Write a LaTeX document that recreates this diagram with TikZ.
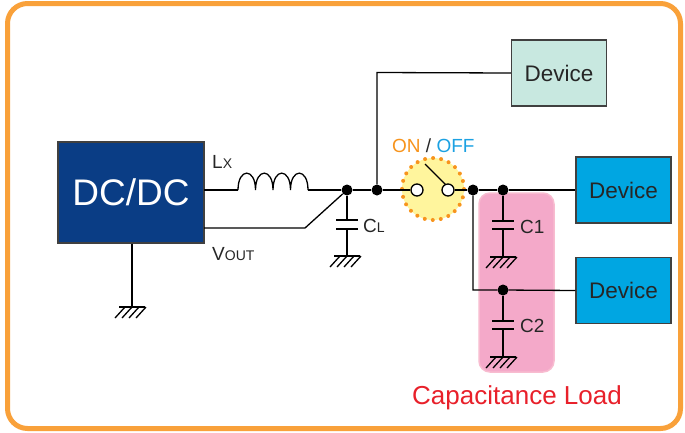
\documentclass[tikz,border=0pt]{standalone}
\usepackage{fontspec}
\setmainfont{Liberation Sans}
\definecolor{frameor}{HTML}{F9A13A}
\definecolor{dcblue}{HTML}{0A3D85}
\definecolor{devteal}{HTML}{C8E8E0}
\definecolor{devblue}{HTML}{00A6E2}
\definecolor{pinkfill}{HTML}{F4A9C9}
\definecolor{pinkedge}{HTML}{F8BCD0}
\definecolor{swyellow}{HTML}{FFF59D}
\definecolor{swor}{HTML}{F7941D}
\definecolor{offblue}{HTML}{1BA1E2}
\definecolor{loadred}{HTML}{E8202A}
\definecolor{boxedge}{HTML}{404040}
\begin{document}
\begin{tikzpicture}[x=1pt,y=-1pt,
  wire/.style={line width=1.3pt,black},
  dotnode/.style={circle,fill=black,inner sep=0pt,minimum size=11pt},
  contact/.style={circle,draw=black,fill=white,line width=1.3pt,inner sep=0pt,minimum size=12pt},
  devbox/.style={draw=boxedge,line width=1.2pt,minimum width=95pt,minimum height=66pt,inner sep=0pt,font=\fontsize{22.5}{26}\selectfont,text=black!85},
  lbl/.style={inner sep=0pt,font=\fontsize{19}{22}\selectfont,text=black!85},
  gndsym/.pic={\draw[line width=1.3pt] (-13,0)--(13,0);
    \foreach \i in {-7,0,7,14} \draw[line width=1.3pt] (\i,0)--(\i-10,11);}
]
\useasboundingbox (0,0) rectangle (685,432);
% frame
\draw[frameor,line width=5pt,rounded corners=20pt] (7.5,3.5) rectangle (680.5,428.5);
% pink load area
\node[draw=pinkedge,fill=pinkfill,line width=1.5pt,rounded corners=11pt,minimum width=75pt,minimum height=179pt,inner sep=0pt] (load) at (516.5,282.5) {};
% boxes
\node[draw=boxedge,fill=dcblue,line width=1.2pt,minimum width=146pt,minimum height=101pt,inner sep=0pt,text=white,font=\fontsize{37}{40}\selectfont] (dcdc) at (131,192.5) {DC/DC};
\node[devbox,fill=devteal] (dev1) at (559,73) {Device};
\node[devbox,fill=devblue] (dev2) at (623.5,190) {Device};
\node[devbox,fill=devblue] (dev3) at (623.5,290.5) {Device};
% switch
\node[circle,fill=swyellow,draw=swor,line width=4pt,dash pattern=on 0pt off 8.1pt,line cap=round,minimum size=62pt,inner sep=0pt] (sw) at (433,189) {};
% coordinates
\coordinate (lxout) at (204,190);
\coordinate (indA) at (238,190);
\coordinate (indB) at (308,190);
\coordinate (voutout) at (204,228);
\coordinate (vbend) at (305,228);
\node[dotnode] (dA) at (347,190) {};
\node[dotnode] (dB) at (377,190) {};
\node[dotnode] (dC) at (473,190) {};
\node[dotnode] (dD) at (503,190) {};
\node[dotnode] (dE) at (503,290) {};
\coordinate (topbend) at (377,72.5);
\coordinate (lowbend) at (473,290);
% inductor wires
\draw[wire] (lxout) -- (indA);
\draw[wire] (indA)
  \foreach \k in {0,1,2,3} { .. controls +(0,-22.5) and +(0,-22.5) .. ++(17.5,0) };
\draw[wire] (indB) -- (dA);
\draw[wire] (voutout) -- (vbend) -- (dA);
\draw[wire] (dA) -- (dB);
\draw[wire] (dB) -- (topbend) -- (dev1.west);
% switch contacts
\coordinate (bladeA) at (425,164);
\coordinate (bladeB) at (446,185);
\draw[wire] (bladeA) -- (bladeB);
\node[contact] (swL) at (417,190) {};
\node[contact] (swR) at (448,190) {};
\draw[wire] (dB) -- (swL);
\draw[wire] (swR) -- (dC);
\draw[wire] (dC) -- (dD) -- (dev2.west);
\draw[wire] (dC) -- (lowbend) -- (dE) -- (dev3.west);
% CL
\coordinate (clT) at (347,220);
\coordinate (clB) at (347,229);
\coordinate (clG) at (347,256);
\draw[wire] (dA) -- (clT);
\draw[wire] (336,220) -- (358,220);
\draw[wire] (336,229) -- (358,229);
\draw[wire] (clB) -- (clG);
\pic at (clG) {gndsym};
% C1
\coordinate (c1T) at (503,221);
\coordinate (c1B) at (503,229);
\coordinate (c1G) at (503,257);
\draw[wire] (dD) -- (c1T);
\draw[wire] (492,221) -- (514,221);
\draw[wire] (492,229) -- (514,229);
\draw[wire] (c1B) -- (c1G);
\pic at (c1G) {gndsym};
% C2
\coordinate (c2T) at (503,321);
\coordinate (c2B) at (503,329);
\coordinate (c2G) at (503,357);
\draw[wire] (dE) -- (c2T);
\draw[wire] (492,321) -- (514,321);
\draw[wire] (492,329) -- (514,329);
\draw[wire] (c2B) -- (c2G);
\pic at (c2G) {gndsym};
% DC/DC ground
\coordinate (dcG) at (132,307);
\draw[wire] (dcdc.south -| dcG) -- (dcG);
\pic at (dcG) {gndsym};
% labels
\node[lbl,anchor=base west] (lxl) at (212,168) {L{\fontsize{14}{16}\selectfont X}};
\node[lbl,anchor=base west] (voutl) at (212,260) {V{\fontsize{14}{16}\selectfont OUT}};
\node[lbl,anchor=base west] (cll) at (363,232) {C{\fontsize{14}{16}\selectfont L}};
\node[lbl,anchor=base west] (c1l) at (520,233) {C1};
\node[lbl,anchor=base west] (c2l) at (520,332) {C2};
\node[lbl,anchor=base west] (onoff) at (392,152) {\textcolor{swor}{ON} / \textcolor{offblue}{OFF}};
\node[inner sep=0pt,anchor=base,text=loadred,font=\fontsize{26}{29}\selectfont] (loadl) at (517,404) {Capacitance Load};
\end{tikzpicture}
\end{document}
